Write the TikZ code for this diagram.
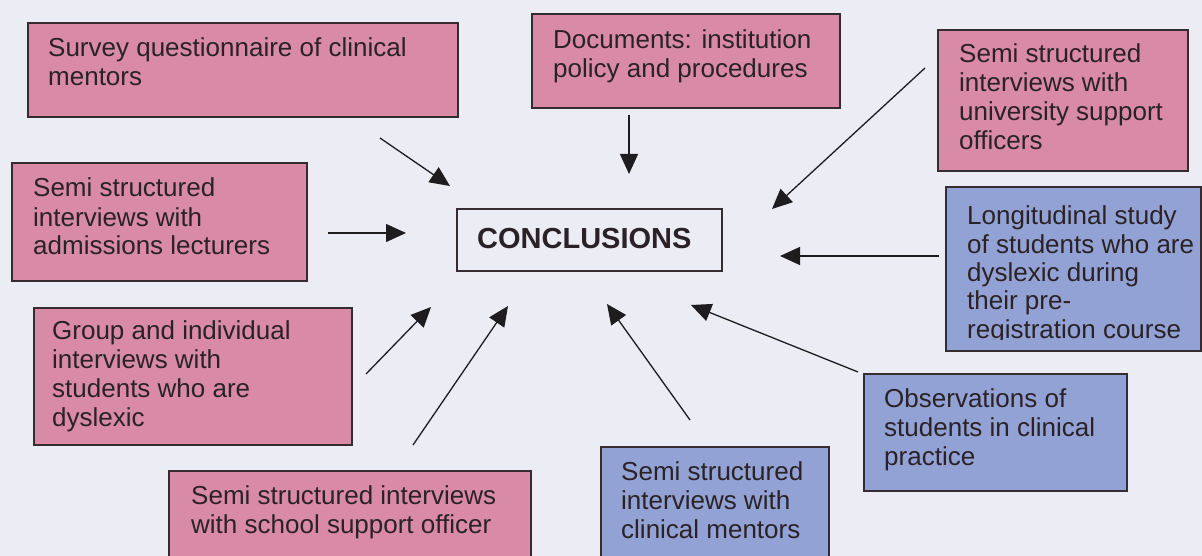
\documentclass[tikz,border=0pt]{standalone}
\usepackage{fontspec}
\setmainfont{Liberation Sans}
\usetikzlibrary{arrows.meta}
\definecolor{bg}{RGB}{236,236,244}
\definecolor{pinkfill}{RGB}{217,138,166}
\definecolor{bluefill}{RGB}{146,162,212}
\definecolor{edge}{RGB}{52,44,48}
\definecolor{ink}{RGB}{42,34,38}
\definecolor{arrowink}{RGB}{30,28,30}
% stacked left-aligned lines whose baseline is the first line's baseline
\newcommand\boxlines[1]{\begin{tabular}[t]{@{}l@{}}#1\end{tabular}}
\begin{document}
\begin{tikzpicture}[x=1pt, y=-1pt,
  panel/.style={draw=edge, line width=1.6pt, inner sep=0pt, anchor=north west},
  pinkbox/.style={panel, fill=pinkfill},
  bluebox/.style={panel, fill=bluefill},
  boxtext/.style={anchor=base west, inner sep=0pt, text=ink,
    font=\fontsize{26}{29}\selectfont},
  flow/.style={draw=arrowink, line width=1.3pt, -{Triangle[length=20pt, width=18pt]}}]

\useasboundingbox (0,0) rectangle (1202,556);
\clip (0,0) rectangle (1202,556);
\fill[bg] (0,0) rectangle (1202,556);

% central box
\node[panel, minimum width=265pt, minimum height=62pt] (concl) at (456,208) {};
\node[anchor=base west, inner sep=0pt, text=ink, font=\fontsize{29}{32}\selectfont\bfseries]
  (concl-t) at (477,248) {CONCLUSIONS};

% source boxes
\node[pinkbox, minimum width=430pt, minimum height=94pt] (survey) at (27,22) {};
\node[boxtext] (survey-t) at (48,57) {\boxlines{Survey questionnaire of clinical\\mentors}};

\node[pinkbox, minimum width=308pt, minimum height=94pt] (docs) at (531,13) {};
\node[boxtext] (docs-t) at (553,49) {\boxlines{Documents: institution\\policy and procedures}};

\node[pinkbox, minimum width=250pt, minimum height=141pt] (univ) at (937,29) {};
\node[boxtext] (univ-t) at (959,63) {\boxlines{Semi structured\\interviews with\\university support\\officers}};

\node[pinkbox, minimum width=295pt, minimum height=118pt] (admis) at (11,162) {};
\node[boxtext] (admis-t) at (33,197) {\boxlines{Semi structured\\interviews with\\admissions lecturers}};

\node[bluebox, minimum width=255pt, minimum height=164pt] (longi) at (945,186) {};
\begin{scope}
  \clip (946,187) rectangle (1199,339.5);
  \node[boxtext, font=\fontsize{26}{28.3}\selectfont] (longi-t) at (967,225)
    {\boxlines{Longitudinal study\\of students who are\\dyslexic during\\their pre-\\registration course}};
\end{scope}

\node[pinkbox, minimum width=318pt, minimum height=137pt] (group) at (33,307) {};
\node[boxtext] (group-t) at (52,339) {\boxlines{Group and individual\\interviews with\\students who are\\dyslexic}};

\node[pinkbox, minimum width=362pt, minimum height=120pt] (school) at (168,470) {};
\node[boxtext] (school-t) at (191,504) {\boxlines{Semi structured interviews\\with school support officer}};

\node[bluebox, minimum width=228pt, minimum height=120pt] (mentors) at (600,446) {};
\node[boxtext] (mentors-t) at (621,480) {\boxlines{Semi structured\\interviews with\\clinical mentors}};

\node[bluebox, minimum width=263pt, minimum height=117pt] (obs) at (863,373) {};
\node[boxtext] (obs-t) at (884,407) {\boxlines{Observations of\\students in clinical\\practice}};

% arrow ends
\coordinate (survey-s) at (380,138);  \coordinate (survey-e) at (450,186);
\coordinate (admis-s) at (328,233);   \coordinate (admis-e) at (406,233);
\coordinate (docs-s) at (629,115);    \coordinate (docs-e) at (629,174);
\coordinate (univ-s) at (925,68);     \coordinate (univ-e) at (772,209);
\coordinate (longi-s) at (939,256);   \coordinate (longi-e) at (780,256);
\coordinate (obs-s) at (858,372);     \coordinate (obs-e) at (691,305);
\coordinate (mentors-s) at (690,420); \coordinate (mentors-e) at (607,304);
\coordinate (school-s) at (413,445);  \coordinate (school-e) at (508,306);
\coordinate (group-s) at (366,374);   \coordinate (group-e) at (431,307);

\foreach \k in {survey,admis,docs,univ,longi,obs,mentors,school,group}
  \draw[flow] (\k-s) -- (\k-e);
\end{tikzpicture}
\end{document}
